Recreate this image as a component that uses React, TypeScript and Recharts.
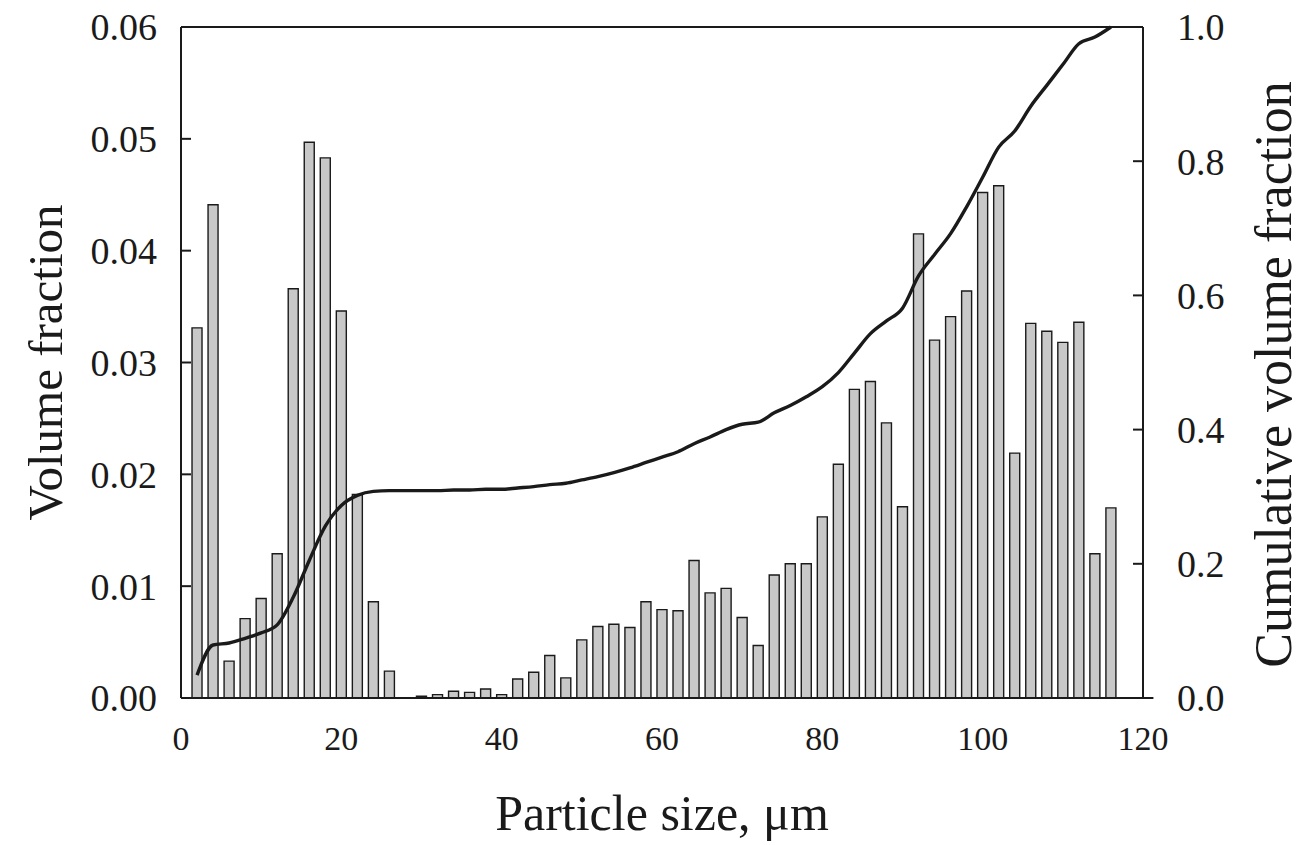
import React from 'react';
import { ComposedChart, Bar, Line, XAxis, YAxis, ReferenceLine, Label } from 'recharts';

const sizes = [2, 4, 6, 8, 10, 12, 14, 16, 18, 20, 22, 24, 26, 28, 30, 32, 34, 36, 38, 40, 42, 44, 46, 48, 50, 52, 54, 56, 58, 60, 62, 64, 66, 68, 70, 72, 74, 76, 78, 80, 82, 84, 86, 88, 90, 92, 94, 96, 98, 100, 102, 104, 106, 108, 110, 112, 114, 116];

const volumeFraction = [0.0331, 0.0441, 0.0033, 0.0071, 0.0089, 0.0129, 0.0366, 0.0497, 0.0483, 0.0346, 0.0182, 0.0086, 0.0024, 0, 0.00015, 0.0003, 0.0006, 0.0005, 0.0008, 0.0003, 0.0017, 0.0023, 0.0038, 0.0018, 0.0052, 0.0064, 0.0066, 0.0063, 0.0086, 0.0079, 0.0078, 0.0123, 0.0094, 0.0098, 0.0072, 0.0047, 0.011, 0.012, 0.012, 0.0162, 0.0209, 0.0276, 0.0283, 0.0246, 0.0171, 0.0415, 0.032, 0.0341, 0.0364, 0.0452, 0.0458, 0.0219, 0.0335, 0.0328, 0.0318, 0.0336, 0.0129, 0.017];

const cumulativeFraction = [0.034, 0.079, 0.082, 0.089, 0.097, 0.109, 0.15, 0.205, 0.256, 0.287, 0.302, 0.308, 0.309, 0.309, 0.309, 0.309, 0.31, 0.31, 0.311, 0.311, 0.313, 0.315, 0.318, 0.32, 0.325, 0.33, 0.336, 0.343, 0.351, 0.359, 0.367, 0.379, 0.389, 0.4, 0.408, 0.411, 0.425, 0.436, 0.449, 0.464, 0.485, 0.514, 0.543, 0.562, 0.581, 0.629, 0.661, 0.692, 0.732, 0.776, 0.821, 0.845, 0.882, 0.913, 0.944, 0.975, 0.985, 1.0];

const xTicks = [0, 20, 40, 60, 80, 100, 120];
const leftTicks = [0, 0.01, 0.02, 0.03, 0.04, 0.05, 0.06];
const rightTicks = [0, 0.2, 0.4, 0.6, 0.8, 1.0];

const xLabel = 'Particle size, μm';
const leftLabel = 'Volume fraction';
const rightLabel = 'Cumulative volume fraction';

const data = sizes.map((s, i) => ({ size: s, vol: volumeFraction[i], cum: cumulativeFraction[i] }));

const FONT = "'Liberation Serif', 'Times New Roman', serif";
const INK = '#1a1a1a';

export default function App() {
  return (
    <div style={{ position: 'absolute', left: 0, top: 0, width: 1305, height: 845, background: '#fff' }}>
      <ComposedChart width={1305} height={845} data={data} margin={{ top: 27, right: 62, bottom: 87, left: 81 }}>
        <XAxis
          dataKey="size"
          type="number"
          domain={[0, 120]}
          ticks={xTicks}
          allowDataOverflow
          tickLine={false}
          tickSize={0}
          tickMargin={28}
          height={60}
          axisLine={{ stroke: INK, strokeWidth: 2 }}
          tick={{ fill: INK, fontFamily: FONT, fontSize: 34 }}
        >
          <Label
            content={(props: any) => {
              const vb = props.viewBox;
              return (
                <text x={vb.x + vb.width / 2} y={vb.y + 132} textAnchor="middle" fill={INK} fontFamily={FONT} fontSize={50}>
                  {xLabel}
                </text>
              );
            }}
          />
        </XAxis>
        <YAxis
          yAxisId="left"
          orientation="left"
          domain={[0, 0.06]}
          ticks={leftTicks}
          width={100}
          tickSize={-10}
          tickMargin={34}
          tickFormatter={(v: number) => v.toFixed(2)}
          axisLine={{ stroke: INK, strokeWidth: 2 }}
          tickLine={{ stroke: INK, strokeWidth: 2 }}
          tick={{ fill: INK, fontFamily: FONT, fontSize: 38 }}
        >
          <Label
            content={(props: any) => {
              const vb = props.viewBox;
              const cx = vb.x - 19;
              const cy = vb.y + vb.height / 2;
              return (
                <text x={cx} y={cy} transform={`rotate(-90, ${cx}, ${cy})`} textAnchor="middle" fill={INK} fontFamily={FONT} fontSize={49}>
                  {leftLabel}
                </text>
              );
            }}
          />
        </YAxis>
        <YAxis
          yAxisId="right"
          orientation="right"
          domain={[0, 1]}
          ticks={rightTicks}
          width={100}
          tickSize={-10}
          tickMargin={44}
          tickFormatter={(v: number) => v.toFixed(1)}
          axisLine={{ stroke: INK, strokeWidth: 2 }}
          tickLine={{ stroke: INK, strokeWidth: 2 }}
          tick={{ fill: INK, fontFamily: FONT, fontSize: 38, textAnchor: 'start' }}
        >
          <Label
            content={(props: any) => {
              const vb = props.viewBox;
              const cx = vb.x + 148;
              const cy = vb.y + vb.height / 2 + 12;
              return (
                <text x={cx} y={cy} transform={`rotate(-90, ${cx}, ${cy})`} textAnchor="middle" fill={INK} fontFamily={FONT} fontSize={52}>
                  {rightLabel}
                </text>
              );
            }}
          />
        </YAxis>
        <ReferenceLine yAxisId="left" y={0.06} stroke={INK} strokeWidth={2} />
        <ReferenceLine
          yAxisId="left"
          segment={[{ x: 120, y: 0 }, { x: 121.3, y: 0 }]}
          ifOverflow="visible"
          stroke={INK}
          strokeWidth={2}
        />
        <Bar
          yAxisId="left"
          dataKey="vol"
          barSize={10}
          fill="#c8c8c8"
          stroke={INK}
          strokeWidth={1.4}
          isAnimationActive={false}
        />
        <Line
          yAxisId="right"
          dataKey="cum"
          type="monotone"
          stroke={INK}
          strokeWidth={3.4}
          dot={false}
          activeDot={false}
          isAnimationActive={false}
        />
      </ComposedChart>
    </div>
  );
}
